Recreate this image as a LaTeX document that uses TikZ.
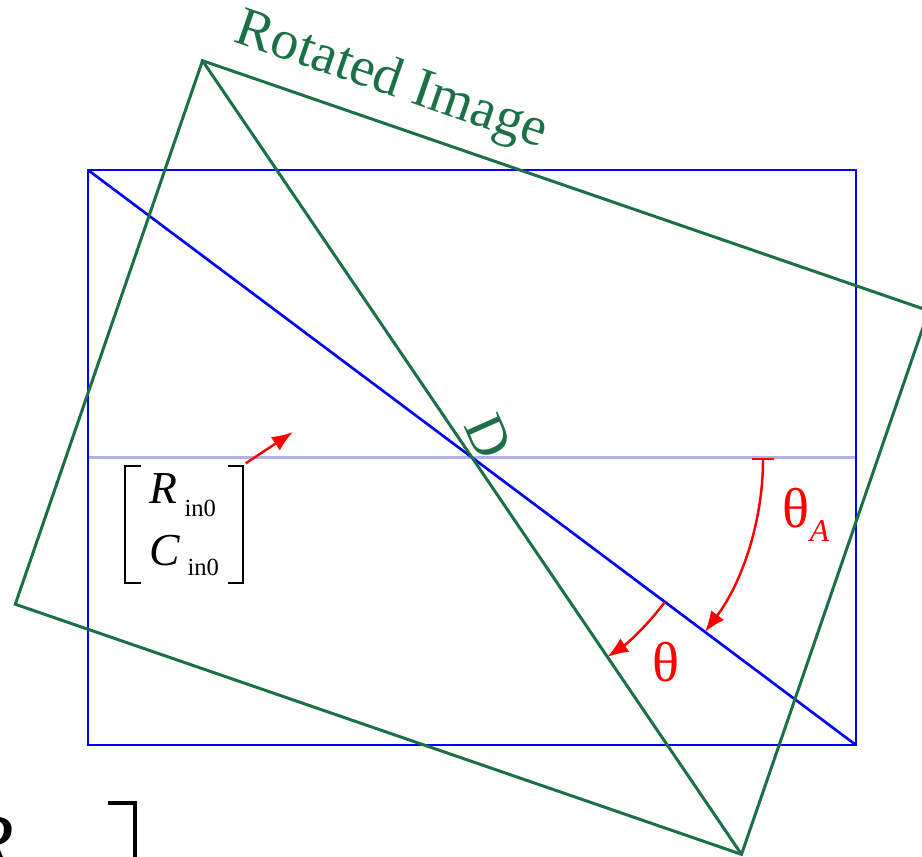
\documentclass[tikz,border=0pt]{standalone}
\usepackage{fontspec}
\setmainfont{Liberation Serif}
\usetikzlibrary{arrows.meta,calc}
\definecolor{imgblue}{HTML}{0000FF}
\definecolor{rotgreen}{HTML}{1B7048}
\definecolor{midline}{HTML}{B0B0EA}
\definecolor{angred}{HTML}{FF0000}
\tikzset{
  frame/.style={draw=imgblue, line width=0.75pt},
  rotframe/.style={draw=rotgreen, line width=0.85pt},
  midaxis/.style={draw=midline, line width=0.6pt},
  angarrow/.style={-{Latex[length=6pt,width=4.6pt]}, draw=angred, line width=0.7pt},
  brk/.style={draw=black, line width=0.6pt},
  anglbl/.style={text=angred, font=\fontsize{16}{18}\selectfont, inner sep=0pt},
  greenlbl/.style={text=rotgreen, inner sep=0pt},
  vecbox/.style={inner sep=0pt, align=left, font=\fontsize{13}{17.6}\selectfont}
}
\newcommand{\lowsub}[2]{\raisebox{-#1}{\fontsize{7}{8}\selectfont #2}}

\begin{document}
\begin{tikzpicture}[x=0.01cm, y=-0.01cm]
  \useasboundingbox (0,0) rectangle (922,856);
  \clip (0,0) rectangle (922,856);
  % input image
  \coordinate (c) at (472,457.5);
  \coordinate (bTL) at (88,170);
  \coordinate (bBR) at (856,745);
  \coordinate (mL) at (88,457.5);
  \coordinate (mR) at (856,457.5);
  \draw[midaxis] (mL) -- (mR);
  \draw[frame] (bTL) rectangle (bBR);
  \draw[frame] (bTL) -- (bBR);
  % rotated image, 19 deg about the centre
  \coordinate (gTL) at (202.5,60.7);
  \coordinate (gTR) at (928.7,310.7);
  \coordinate (gBR) at (741.5,854.3);
  \coordinate (gBL) at (15.3,604.2);
  \draw[rotframe] (gTL) -- (gTR) -- (gBR) -- (gBL) -- cycle;
  \draw[rotframe] (gTL) -- (gBR);
  \node[greenlbl, rotate=-19, font=\fontsize{15.8}{18}\selectfont] (title) at (391,82) {Rotated Image};
  \node[greenlbl, rotate=-66, font=\fontsize{16}{18}\selectfont] (diag) at (489,437) {D};
  % angles
  \draw[angarrow, {Bar[width=6pt]}-{Latex[length=6pt,width=4.6pt]}] ($(c)+(291,0)$)
    arc[start angle=0, end angle=36.87, radius=291];
  \draw[angarrow] ($(c)+(36.87:241)$) arc[start angle=36.87, end angle=55.87, radius=241];
  \node[anglbl] (thA) at (806,515) {θ\lowsub{4pt}{\fontsize{9}{10}\selectfont\textit{A}}};
  \node[anglbl] (th) at (666,662) {θ};
  % start position
  \node[vecbox, minimum width=1.16cm, minimum height=1.15cm] (rc0) at (184,524.5)
    {\textit{R}\,\lowsub{3.7pt}{in0}\\ \textit{C}\,\lowsub{2.8pt}{in0}};
  \draw[brk] (rc0.north west) ++(16,0) -- (rc0.north west) -- (rc0.south west) -- ++(16,0);
  \draw[brk] (rc0.north east) ++(-15,0) -- (rc0.north east) -- (rc0.south east) -- ++(-15,0);
  \coordinate (ptr) at (293,432);
  \draw[angarrow] ([shift={(3,-3)}]rc0.north east) -- (ptr);
  % cut-off vector below
  \node[inner sep=0pt, anchor=base west, font=\fontsize{22.75}{26}\selectfont] (bigR) at (-34.75,869.5) {\textit{R}};
  \coordinate (bigbrk) at (135,803);
  \draw[brk, line width=1pt] (bigbrk) ++(-27,0) -- (bigbrk) -- ++(0,200);
\end{tikzpicture}
\end{document}
